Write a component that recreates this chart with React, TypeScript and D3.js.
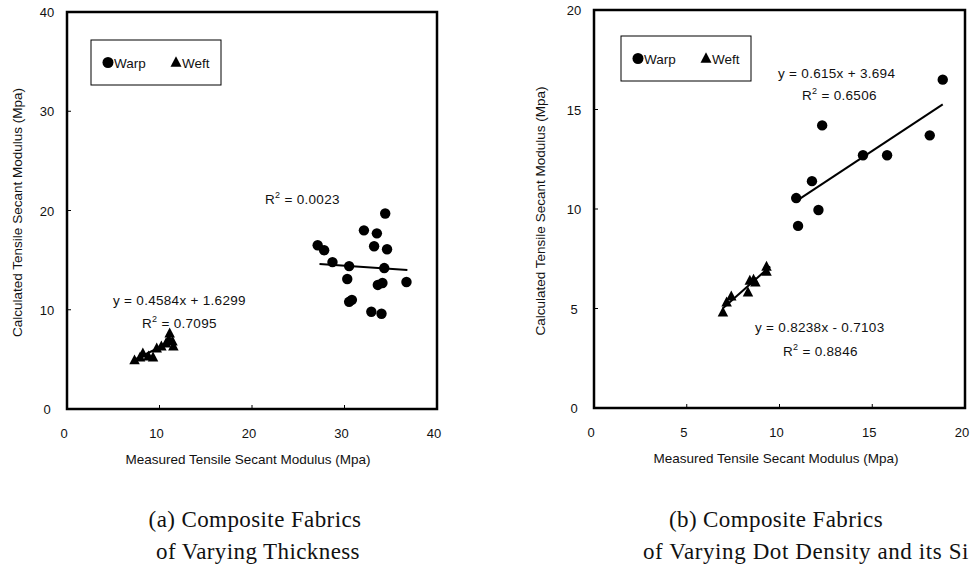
import React from "react";
import * as d3 from "d3";

// ---------- Data: panel (a) ----------
const aWarpX = [27.1, 27.8, 28.7, 30.5, 30.3, 30.5, 30.8, 32.1, 33.5, 33.2, 34.4, 34.6, 34.3, 33.6, 34.1, 32.9, 34.0, 36.7];
const aWarpY = [16.5, 16.0, 14.8, 14.4, 13.1, 10.8, 11.0, 18.0, 17.7, 16.4, 19.7, 16.1, 14.2, 12.5, 12.7, 9.8, 9.6, 12.8];
const aWeftX = [7.3, 7.9, 8.2, 8.8, 9.3, 9.7, 10.2, 10.7, 11.0, 11.4, 11.1, 11.5];
const aWeftY = [4.9, 5.2, 5.6, 5.3, 5.2, 6.1, 6.3, 6.6, 7.0, 6.8, 7.6, 6.3];
const aWarpFit = [-0.063, 16.33, 27.3, 36.8]; // slope, intercept, xStart, xEnd
const aWeftFit = [0.4584, 1.6299, 7.3, 11.5];
const aTicks = [0, 10, 20, 30, 40];

// ---------- Data: panel (b) ----------
const bWarpX = [18.8, 12.3, 14.5, 15.8, 18.1, 11.75, 10.9, 12.1, 11.0];
const bWarpY = [16.5, 14.2, 12.7, 12.7, 13.7, 11.4, 10.55, 9.95, 9.15];
const bWeftX = [6.95, 7.15, 7.4, 8.3, 8.4, 8.6, 8.7, 9.3, 9.3];
const bWeftY = [4.8, 5.3, 5.6, 5.8, 6.4, 6.45, 6.3, 7.1, 6.85];
const bWarpFit = [0.615, 3.694, 10.9, 18.8];
const bWeftFit = [0.8238, -0.7103, 6.95, 9.5];
const bXTicks = [0, 5, 10, 15, 20];
const bYTicks = [0, 5, 10, 15, 20];

const legendLabels = ["Warp", "Weft"];
const xTitle = "Measured Tensile Secant Modulus (Mpa)";
const yTitle = "Calculated Tensile Secant Modulus (Mpa)";
const captionA = ["(a) Composite Fabrics", "of Varying Thickness"];
const captionB = ["(b) Composite Fabrics", "of Varying Dot Density and its Si"];

const SANS = "'Liberation Sans', Arial, Helvetica, sans-serif";
const SERIF = "'Liberation Serif', 'DejaVu Serif', serif";
const FS = 13.5;

type Ann = { text: string; sup?: boolean; x: number; y: number };

function Tri({ cx, cy, s }: { cx: number; cy: number; s: number }) {
  const h = s * 0.95;
  const p = `M${cx},${cy - h * 0.6}L${cx + s / 2},${cy + h * 0.4}L${cx - s / 2},${cy + h * 0.4}Z`;
  return <path d={p} fill="#000" />;
}

function RText({ a }: { a: Ann }) {
  if (a.sup) {
    return (
      <text x={a.x} y={a.y} fontFamily={SANS} fontSize={FS} letterSpacing={0.3} fill="#111">
        R<tspan dy={-6} fontSize={9}>2</tspan>
        <tspan dy={6}>{a.text}</tspan>
      </text>
    );
  }
  return (
    <text x={a.x} y={a.y} fontFamily={SANS} fontSize={FS} letterSpacing={0.3} fill="#111">
      {a.text}
    </text>
  );
}

function Panel(props: {
  x0: number; x1: number; y0: number; y1: number;
  xDom: number[]; yDom: number[]; xTicks: number[]; yTicks: number[];
  warpX: number[]; warpY: number[]; weftX: number[]; weftY: number[];
  fits: number[][]; anns: Ann[]; legend: number[]; yLabX: number; yTitleX: number; xTitleX: number;
}) {
  const { x0, x1, y0, y1 } = props;
  const xs = d3.scaleLinear().domain(props.xDom).range([x0, x1]);
  const ys = d3.scaleLinear().domain(props.yDom).range([y1, y0]);
  const line = d3.line<number[]>().x((d) => xs(d[0])).y((d) => ys(d[1]));
  const [lx, ly, lw, lh] = props.legend;
  return (
    <g>
      {props.fits.map((f, i) => (
        <path key={"f" + i} d={line([[f[2], f[0] * f[2] + f[1]], [f[3], f[0] * f[3] + f[1]]]) || ""} stroke="#000" strokeWidth={2} fill="none" />
      ))}
      {props.warpX.map((v, i) => (
        <circle key={"w" + i} cx={xs(v)} cy={ys(props.warpY[i])} r={5.2} fill="#000" />
      ))}
      {props.weftX.map((v, i) => (
        <Tri key={"t" + i} cx={xs(v)} cy={ys(props.weftY[i])} s={10.5} />
      ))}
      <rect x={x0} y={y0} width={x1 - x0} height={y1 - y0} fill="none" stroke="#000" strokeWidth={2.5} />
      {props.xTicks.map((t) => (
        <g key={"xt" + t}>
          <line x1={xs(t)} x2={xs(t)} y1={y1} y2={y1 - 4} stroke="#000" strokeWidth={1} />
          <text x={xs(t) - 3} y={y1 + 29} textAnchor="middle" fontFamily={SANS} fontSize={13} fill="#111">{t}</text>
        </g>
      ))}
      {props.yTicks.map((t) => (
        <g key={"yt" + t}>
          <line x1={x0} x2={x0 + 4} y1={ys(t)} y2={ys(t)} stroke="#000" strokeWidth={1} />
          <text x={props.yLabX} y={ys(t) + 5} textAnchor="middle" fontFamily={SANS} fontSize={13} fill="#111">{t}</text>
        </g>
      ))}
      <text x={props.xTitleX} y={y1 + 55} textAnchor="middle" fontFamily={SANS} fontSize={FS} fill="#111">{xTitle}</text>
      <text transform={`translate(${props.yTitleX},${(y0 + y1) / 2 + 2}) rotate(-90)`} textAnchor="middle" fontFamily={SANS} fontSize={FS} fill="#111">{yTitle}</text>
      <rect x={lx} y={ly} width={lw} height={lh} fill="#fff" stroke="#000" strokeWidth={1} />
      <circle cx={lx + 17} cy={ly + lh / 2} r={5.5} fill="#000" />
      <text x={lx + 23} y={ly + lh / 2 + 5} fontFamily={SANS} fontSize={FS} fill="#111">{legendLabels[0]}</text>
      <Tri cx={lx + 85} cy={ly + lh / 2} s={11} />
      <text x={lx + 91} y={ly + lh / 2 + 5} fontFamily={SANS} fontSize={FS} fill="#111">{legendLabels[1]}</text>
      {props.anns.map((a, i) => <RText key={"a" + i} a={a} />)}
    </g>
  );
}

export default function App() {
  return (
    <svg width={975} height={574} style={{ position: "absolute", left: 0, top: 0, background: "#fff" }}>
      <rect width={975} height={574} fill="#fff" />
      <Panel
        x0={67} x1={437} y0={12} y1={409}
        xDom={[0, 40]} yDom={[0, 40]} xTicks={aTicks} yTicks={aTicks}
        warpX={aWarpX} warpY={aWarpY} weftX={aWeftX} weftY={aWeftY}
        fits={[aWarpFit, aWeftFit]}
        anns={[
          { text: " = 0.0023", sup: true, x: 265, y: 204 },
          { text: "y = 0.4584x + 1.6299", x: 113, y: 305 },
          { text: " = 0.7095", sup: true, x: 142, y: 328 },
        ]}
        legend={[91, 40, 130, 45]} yLabX={47} yTitleX={22} xTitleX={248}
      />
      <Panel
        x0={594} x1={965} y0={10} y1={408}
        xDom={[0, 20]} yDom={[0, 20]} xTicks={bXTicks} yTicks={bYTicks}
        warpX={bWarpX} warpY={bWarpY} weftX={bWeftX} weftY={bWeftY}
        fits={[bWarpFit, bWeftFit]}
        anns={[
          { text: "y = 0.615x + 3.694", x: 778, y: 78 },
          { text: " = 0.6506", sup: true, x: 802, y: 100 },
          { text: "y = 0.8238x - 0.7103", x: 755, y: 332 },
          { text: " = 0.8846", sup: true, x: 783, y: 356 },
        ]}
        legend={[621, 36, 130, 45]} yLabX={574} yTitleX={545} xTitleX={776}
      />
      <text x={255} y={527} textAnchor="middle" fontFamily={SERIF} fontSize={23} letterSpacing={0.4} fill="#111">{captionA[0]}</text>
      <text x={258} y={559} textAnchor="middle" fontFamily={SERIF} fontSize={23} letterSpacing={0.4} fill="#111">{captionA[1]}</text>
      <text x={776} y={527} textAnchor="middle" fontFamily={SERIF} fontSize={23} letterSpacing={0.4} fill="#111">{captionB[0]}</text>
      <text x={643} y={559} fontFamily={SERIF} fontSize={23} letterSpacing={0.6} fill="#111">{captionB[1]}</text>
    </svg>
  );
}
